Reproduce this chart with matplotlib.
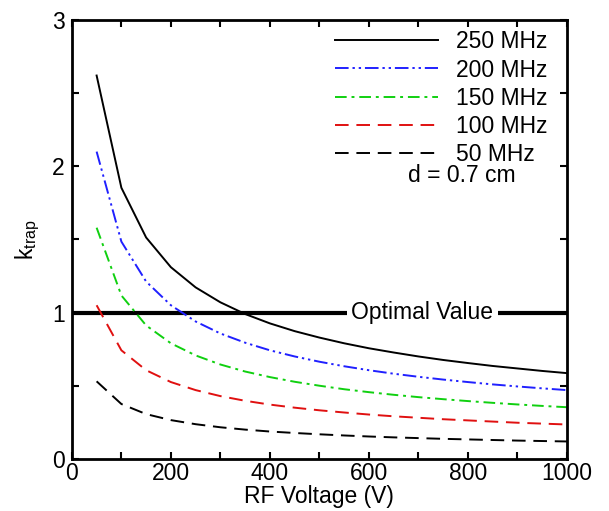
import matplotlib
matplotlib.use("Agg")
import matplotlib.pyplot as plt
from matplotlib.ticker import MultipleLocator

plt.rcParams["font.family"] = ["Liberation Sans", "DejaVu Sans"]

# ── Data ──────────────────────────────────────────────────────────────────────
voltage = [50, 100, 150, 200, 250, 300, 350, 400, 450, 500,
           550, 600, 650, 700, 750, 800, 850, 900, 950, 1000]

k_250 = [2.620, 1.853, 1.513, 1.310, 1.172, 1.070, 0.990, 0.926, 0.873, 0.829,
         0.790, 0.756, 0.727, 0.700, 0.676, 0.655, 0.635, 0.618, 0.601, 0.586]
k_200 = [2.100, 1.485, 1.212, 1.050, 0.939, 0.857, 0.794, 0.742, 0.700, 0.664,
         0.633, 0.606, 0.582, 0.561, 0.542, 0.525, 0.509, 0.495, 0.482, 0.470]
k_150 = [1.580, 1.117, 0.912, 0.790, 0.707, 0.645, 0.597, 0.559, 0.527, 0.500,
         0.476, 0.456, 0.438, 0.422, 0.408, 0.395, 0.383, 0.372, 0.362, 0.353]
k_100 = [1.050, 0.742, 0.606, 0.525, 0.470, 0.429, 0.397, 0.371, 0.350, 0.332,
         0.317, 0.303, 0.291, 0.281, 0.271, 0.263, 0.255, 0.247, 0.241, 0.235]
k_50 = [0.530, 0.375, 0.306, 0.265, 0.237, 0.216, 0.200, 0.187, 0.177, 0.168,
        0.160, 0.153, 0.147, 0.142, 0.137, 0.133, 0.129, 0.125, 0.122, 0.119]

optimal = 1.0
optimal_label_x = 708

series = [
    ("250 MHz", k_250, "black",   "-"),
    ("200 MHz", k_200, "#2020ff", (0, (7, 2, 1.2, 2, 1.2, 2))),
    ("150 MHz", k_150, "#10d010", (0, (6, 2.5, 1.5, 2.5))),
    ("100 MHz", k_100, "#e01010", (0, (7, 4))),
    ("50 MHz",  k_50,  "black",   (0, (7, 4))),
]

FS = 16.5

fig = plt.figure(figsize=(6.09, 5.11), dpi=100)
ax = fig.add_axes([0.118, 0.102, 0.813, 0.859])

for label, vals, color, ls in series:
    ax.plot(voltage, vals, color=color, linestyle=ls, linewidth=1.4, label=label)

ax.axhline(optimal, color="black", linewidth=3, zorder=1)
ax.text(optimal_label_x, optimal, "Optimal Value", ha="center", va="center",
        fontsize=FS, bbox=dict(facecolor="white", edgecolor="none", pad=3))

ax.set_xlim(0, 1000)
ax.set_ylim(0, 3)
ax.xaxis.set_major_locator(MultipleLocator(200))
ax.xaxis.set_minor_locator(MultipleLocator(100))
ax.yaxis.set_major_locator(MultipleLocator(1))
ax.yaxis.set_minor_locator(MultipleLocator(0.5))
ax.tick_params(which="both", direction="in", top=True, right=True,
               length=5, width=1.5, labelsize=FS)
ax.tick_params(axis="x", pad=2)
ax.tick_params(axis="y", pad=5)
for sp in ax.spines.values():
    sp.set_linewidth(2)

ax.set_xlabel("RF Voltage (V)", fontsize=FS, labelpad=0)
ax.set_ylabel(r"k$_{\mathregular{trap}}$", fontsize=FS, labelpad=7)

ax.legend(loc="upper right", bbox_to_anchor=(0.96, 0.976), frameon=False,
          fontsize=FS, handlelength=4.5, handletextpad=0.75,
          labelspacing=0.22, borderpad=0, borderaxespad=0)
ax.text(0.788, 0.645, "d = 0.7 cm", transform=ax.transAxes, ha="center",
        va="center", fontsize=FS)

plt.savefig("out.png", dpi=100)
plt.close()
